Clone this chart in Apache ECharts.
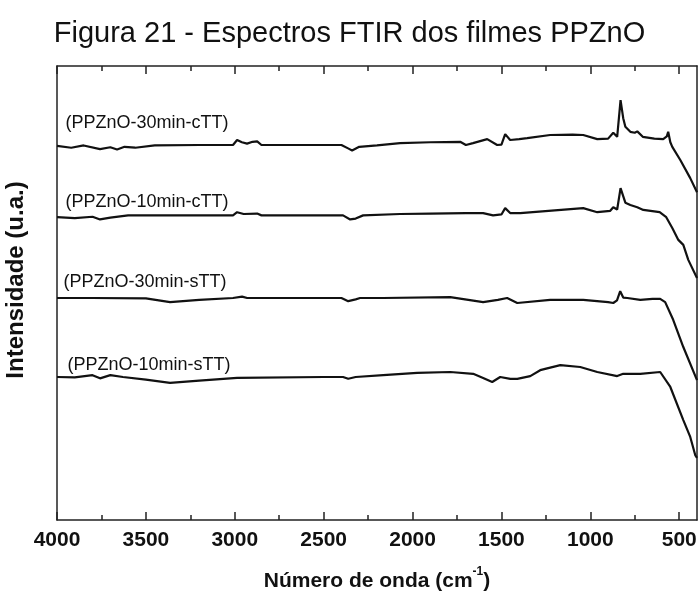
<!DOCTYPE html>
<html>
<head>
<meta charset="utf-8">
<script src="https://cdn.jsdelivr.net/npm/echarts@6/dist/echarts.min.js"></script>
<style>
  html, body { margin: 0; padding: 0; background: #fff; }
  #chart { width: 699px; height: 592px; }
</style>
</head>
<body>
<div id="chart"></div>
<script>
// FTIR spectra of the PPZnO films (wavenumber in cm-1, intensity in arbitrary units)
const titleText = 'Figura 21 - Espectros FTIR dos filmes PPZnO';
const seriesNames = ['(PPZnO-30min-cTT)', '(PPZnO-10min-cTT)', '(PPZnO-30min-sTT)', '(PPZnO-10min-sTT)'];

const wn30c = [4000, 3920, 3850, 3758, 3700, 3662, 3620, 3560, 3450, 3200, 3010, 2987, 2960, 2931, 2900, 2874, 2850, 2600, 2400, 2360, 2340, 2300, 2200, 2070, 1900, 1732, 1700, 1660, 1580, 1524, 1500, 1479, 1451, 1400, 1355, 1226, 1100, 1040, 961, 900, 871, 849, 830, 815, 803, 775, 750, 736, 705, 640, 590, 570, 562, 550, 539, 494, 438, 400];
const int30c = [82.4, 82.0, 82.5, 81.7, 82.1, 81.6, 82.2, 82.0, 82.5, 82.6, 82.6, 83.7, 83.2, 82.9, 83.3, 83.4, 82.6, 82.6, 82.6, 81.8, 81.4, 82.2, 82.5, 83.0, 83.2, 83.3, 82.6, 83.0, 83.9, 82.6, 82.7, 85.0, 83.7, 83.9, 84.1, 84.8, 84.9, 84.8, 83.9, 84.0, 85.3, 84.4, 92.5, 88.5, 86.6, 85.5, 85.3, 85.6, 84.4, 84.0, 83.9, 84.5, 85.5, 83.2, 82.2, 79.3, 75.3, 72.2];

const wn10c = [4000, 3900, 3800, 3758, 3700, 3600, 3200, 3010, 2987, 2950, 2874, 2850, 2391, 2351, 2320, 2278, 2070, 1900, 1700, 1603, 1547, 1500, 1479, 1451, 1394, 1200, 1040, 961, 888, 871, 849, 830, 803, 775, 736, 702, 610, 573, 562, 539, 505, 477, 449, 400];
const int10c = [66.7, 66.5, 66.8, 66.2, 66.6, 67.1, 67.1, 67.1, 67.8, 67.4, 67.5, 67.1, 67.1, 66.2, 66.4, 67.1, 67.4, 67.5, 67.6, 67.6, 67.1, 67.3, 68.7, 67.6, 67.6, 68.2, 68.7, 67.8, 68.1, 68.9, 68.4, 73.1, 69.9, 69.4, 68.9, 68.3, 67.8, 66.7, 66.5, 64.3, 61.7, 60.6, 57.3, 53.3];

const wn30s = [4000, 3800, 3500, 3364, 3200, 3010, 2959, 2930, 2400, 2362, 2320, 2295, 2165, 1788, 1603, 1520, 1468, 1411, 1226, 1040, 900, 871, 850, 832, 815, 792, 719, 650, 607, 579, 534, 477, 400];
const int30s = [48.9, 48.9, 48.8, 48.0, 48.5, 48.9, 49.2, 48.9, 48.9, 48.2, 48.6, 48.9, 48.9, 49.1, 48.0, 48.5, 48.9, 47.8, 48.5, 48.5, 48.0, 47.8, 48.4, 50.4, 49.0, 48.9, 48.5, 48.7, 48.7, 48.0, 44.1, 38.1, 30.8];

const wn10s = [4000, 3900, 3800, 3758, 3700, 3629, 3500, 3364, 3200, 2987, 2500, 2391, 2362, 2320, 2165, 1974, 1788, 1659, 1603, 1552, 1507, 1450, 1411, 1338, 1282, 1169, 1057, 961, 849, 815, 719, 607, 550, 477, 438, 410, 400];
const int10s = [31.5, 31.4, 31.9, 31.2, 31.9, 31.5, 30.9, 30.2, 30.7, 31.3, 31.5, 31.5, 31.1, 31.5, 31.9, 32.4, 32.6, 32.2, 31.3, 30.4, 31.5, 31.1, 31.1, 31.7, 33.0, 34.1, 33.7, 32.6, 31.7, 32.2, 32.2, 32.6, 29.3, 22.0, 18.3, 14.3, 13.7];

// where each sample name sits (wavenumber, intensity)
const labelWn = [3955, 3955, 3966, 3944];
const labelInt = [87.4, 70.0, 52.4, 34.1];

const majorTicks = [4000, 3500, 3000, 2500, 2000, 1500, 1000, 500];
const minorTicks = [3750, 3250, 2750, 2250, 1750, 1250, 750];

const FONT = '"Liberation Sans", Arial, sans-serif';
const INK = '#111';
const FRAME = '#222';

function pairs(xs, ys) { return xs.map((x, i) => [x, ys[i]]); }

function xAxisDef(position, ticks, len, showLine, showLabel) {
  return {
    type: 'value', position: position, min: 400, max: 4000, inverse: true,
    axisLine: { show: showLine, onZero: false, lineStyle: { color: FRAME, width: 1.5 } },
    axisTick: { show: true, inside: true, length: len, customValues: ticks, lineStyle: { color: FRAME, width: 1.5 } },
    axisLabel: {
      show: showLabel, customValues: ticks, margin: 10, hideOverlap: false,
      formatter: v => String(v),
      fontFamily: FONT, fontSize: 21, fontWeight: 'bold', color: INK
    },
    splitLine: { show: false }
  };
}

const bottomMajor = xAxisDef('bottom', majorTicks, 8, true, true);
bottomMajor.name = '{a|Número de onda (cm}{s|-1}{a|)}';
bottomMajor.nameLocation = 'middle';
bottomMajor.nameGap = 46;
bottomMajor.nameTextStyle = {
  rich: {
    a: { fontFamily: FONT, fontSize: 21, fontWeight: 'bold', color: INK, lineHeight: 26, verticalAlign: 'bottom' },
    s: { fontFamily: FONT, fontSize: 12, fontWeight: 'bold', color: INK, lineHeight: 26, verticalAlign: 'top' }
  }
};

const option = {
  animation: false,
  backgroundColor: '#fff',
  title: {
    text: titleText, left: 'center', top: 14,
    textStyle: { fontFamily: FONT, fontSize: 29, fontWeight: 'normal', color: INK }
  },
  grid: { left: 57, right: 2, top: 66, bottom: 72, outerBoundsMode: 'none', containLabel: false },
  xAxis: [
    bottomMajor,
    xAxisDef('bottom', minorTicks, 5, false, false),
    xAxisDef('top', majorTicks, 8, true, false),
    xAxisDef('top', minorTicks, 5, false, false)
  ],
  yAxis: [
    { type: 'value', position: 'left', min: 0, max: 100,
      axisLine: { show: true, lineStyle: { color: FRAME, width: 1.5 } },
      axisTick: { show: false }, axisLabel: { show: false }, splitLine: { show: false } },
    { type: 'value', position: 'right', min: 0, max: 100,
      axisLine: { show: true, lineStyle: { color: FRAME, width: 1.5 } },
      axisTick: { show: false }, axisLabel: { show: false }, splitLine: { show: false } }
  ],
  graphic: [{
    type: 'text', x: 16, y: 280, rotation: Math.PI / 2,
    style: { text: 'Intensidade (u.a.)', font: 'bold 24px ' + FONT, fill: INK, align: 'center', verticalAlign: 'middle' }
  }],
  series: [
    [wn30c, int30c], [wn10c, int10c], [wn30s, int30s], [wn10s, int10s]
  ].map((d, i) => ({
    type: 'line', name: seriesNames[i], xAxisIndex: 0, yAxisIndex: 0,
    data: pairs(d[0], d[1]), showSymbol: false, symbol: 'none',
    lineStyle: { color: INK, width: 2.2 },
    markPoint: {
      symbol: 'circle', symbolSize: 1, itemStyle: { color: 'rgba(0,0,0,0)' },
      label: { show: true, position: 'right', distance: 0, formatter: seriesNames[i], fontFamily: FONT, fontSize: 18, color: INK },
      data: [{ coord: [labelWn[i], labelInt[i]] }]
    }
  }))
};

const chart = echarts.init(document.getElementById('chart'), null, { renderer: 'canvas' });
chart.setOption(option);
</script>
</body>
</html>
